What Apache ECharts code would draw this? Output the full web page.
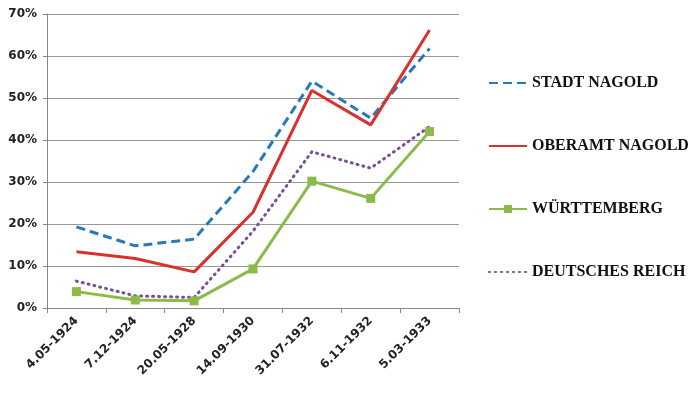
<!DOCTYPE html>
<html><head><meta charset="utf-8">
<script src="https://cdn.jsdelivr.net/npm/echarts@6/dist/echarts.min.js"></script>
<style>html,body{margin:0;padding:0;background:#fff}#c{width:700px;height:393px}</style>
</head><body><div id="c"></div>
<script>
const categories = ['4.05-1924','7.12-1924','20.05-1928','14.09-1930','31.07-1932','6.11-1932','5.03-1933'];
const stadtNagold = [19.3, 14.8, 16.4, 32.5, 54.0, 45.2, 61.8];
const oberamtNagold = [13.4, 11.8, 8.6, 22.8, 51.8, 43.6, 66.2];
const wuerttemberg = [3.9, 1.9, 1.7, 9.3, 30.2, 26.1, 42.0];
const deutschesReich = [6.4, 2.9, 2.5, 18.3, 37.2, 33.3, 43.2];
const yTicks = [0, 10, 20, 30, 40, 50, 60, 70];

const chart = echarts.init(document.getElementById('c'));
const legendText = {fontFamily:'Liberation Serif', fontWeight:'bold', fontSize:16, color:'#111', lineHeight:16};
chart.setOption({
  animation:false,
  grid:{left:47, right:241, top:14, bottom:85},
  legend:{
    orient:'vertical', left:483, top:70, itemGap:47, itemWidth:38, itemHeight:10,
    textStyle:legendText,
    data:[
      {name:'STADT NAGOLD', itemStyle:{opacity:0}},
      {name:'OBERAMT NAGOLD', itemStyle:{opacity:0}},
      {name:'WÜRTTEMBERG'},
      {name:'DEUTSCHES REICH', itemStyle:{opacity:0}}
    ]
  },
  xAxis:{
    type:'category', data:categories, boundaryGap:true,
    axisLine:{lineStyle:{color:'#888', width:1}},
    axisTick:{show:true, length:5, lineStyle:{color:'#888'}},
    axisLabel:{rotate:45, fontFamily:'DejaVu Sans', fontWeight:'bold', fontSize:12, color:'#222', margin:11}
  },
  yAxis:{
    type:'value', min:yTicks[0], max:yTicks[yTicks.length-1], interval:10,
    axisLine:{show:true, lineStyle:{color:'#888'}},
    axisTick:{show:true, length:4, lineStyle:{color:'#888'}},
    splitLine:{lineStyle:{color:'#999', width:1}},
    axisLabel:{formatter:v=>v+'%', fontFamily:'DejaVu Sans', fontWeight:'bold', fontSize:12, color:'#222', margin:10}
  },
  series:[
    {name:'STADT NAGOLD', type:'line', data:stadtNagold, symbol:'none',
     lineStyle:{color:'#2b78b8', width:3, type:[9,5]}, itemStyle:{color:'#2b78b8'}},
    {name:'OBERAMT NAGOLD', type:'line', data:oberamtNagold, symbol:'none',
     lineStyle:{color:'#d7322d', width:3}, itemStyle:{color:'#d7322d'}},
    {name:'WÜRTTEMBERG', type:'line', data:wuerttemberg, symbol:'rect', symbolSize:9,
     lineStyle:{color:'#8cbb4c', width:3}, itemStyle:{color:'#8cbb4c'}},
    {name:'DEUTSCHES REICH', type:'line', data:deutschesReich, symbol:'none',
     lineStyle:{color:'#7a4d98', width:3, type:[1,5], cap:'round'}, itemStyle:{color:'#7a4d98'}}
  ]
});
</script></body></html>
